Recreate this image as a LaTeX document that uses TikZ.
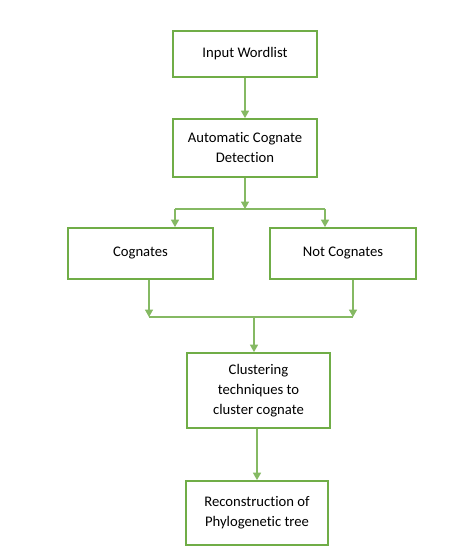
\documentclass[tikz,border=0pt]{standalone}
\usepackage{fontspec}
\setmainfont{Carlito}[Ligatures=NoCommon]
\usetikzlibrary{positioning, arrows.meta}
\definecolor{flowgreen}{RGB}{112, 173, 71}

\begin{document}
\begin{tikzpicture}[x=0.75pt, y=-0.75pt,
    box/.style={draw=flowgreen, line width=1.4pt, align=center, inner sep=2pt,
                font=\fontsize{11}{15}\selectfont},
    link/.style={draw=flowgreen!85, line width=0.8pt},
    arr/.style={link, -{Triangle[width=6pt, length=5.5pt]}}]
  \useasboundingbox (0,0) rectangle (467,555);

  % boxes
  \node[box, minimum width=144*0.75pt, minimum height=46*0.75pt] (input) at (245,54) {Input Wordlist};
  \node[box, minimum width=144*0.75pt, minimum height=58*0.75pt] (detect) at (245,148) {Automatic Cognate\\Detection};
  \node[box, minimum width=145*0.75pt, minimum height=51*0.75pt] (cog) at (140.5,253.5) {Cognates};
  \node[box, minimum width=146*0.75pt, minimum height=51*0.75pt] (notcog) at (343,253.5) {Not Cognates};
  \node[box, minimum width=143*0.75pt, minimum height=75*0.75pt] (cluster) at (258.5,390.5) {Clustering\\techniques to\\cluster cognate};
  \node[box, minimum width=142*0.75pt, minimum height=64*0.75pt] (recon) at (257,513) {Reconstruction of\\Phylogenetic tree};

  % junctions
  \coordinate (split) at (245,209);
  \coordinate (splitL) at (175,209);
  \coordinate (splitR) at (325,209);
  \coordinate (merge) at (254,317);
  \coordinate (mergeL) at (149,317);
  \coordinate (mergeR) at (353,317);

  % connectors
  \draw[arr] (input) -- (detect);
  \draw[arr] (detect) -- (split);
  \draw[link] (splitL) -- (splitR);
  \draw[arr] (splitL) -- (splitL |- cog.north);
  \draw[arr] (splitR) -- (splitR |- notcog.north);
  \draw[arr] (mergeL |- cog.south) -- (mergeL);
  \draw[arr] (mergeR |- notcog.south) -- (mergeR);
  \draw[link] (mergeL) -- (mergeR);
  \draw[arr] (merge) -- (merge |- cluster.north);
  \draw[arr] (cluster.south -| recon) -- (recon);
\end{tikzpicture}
\end{document}
